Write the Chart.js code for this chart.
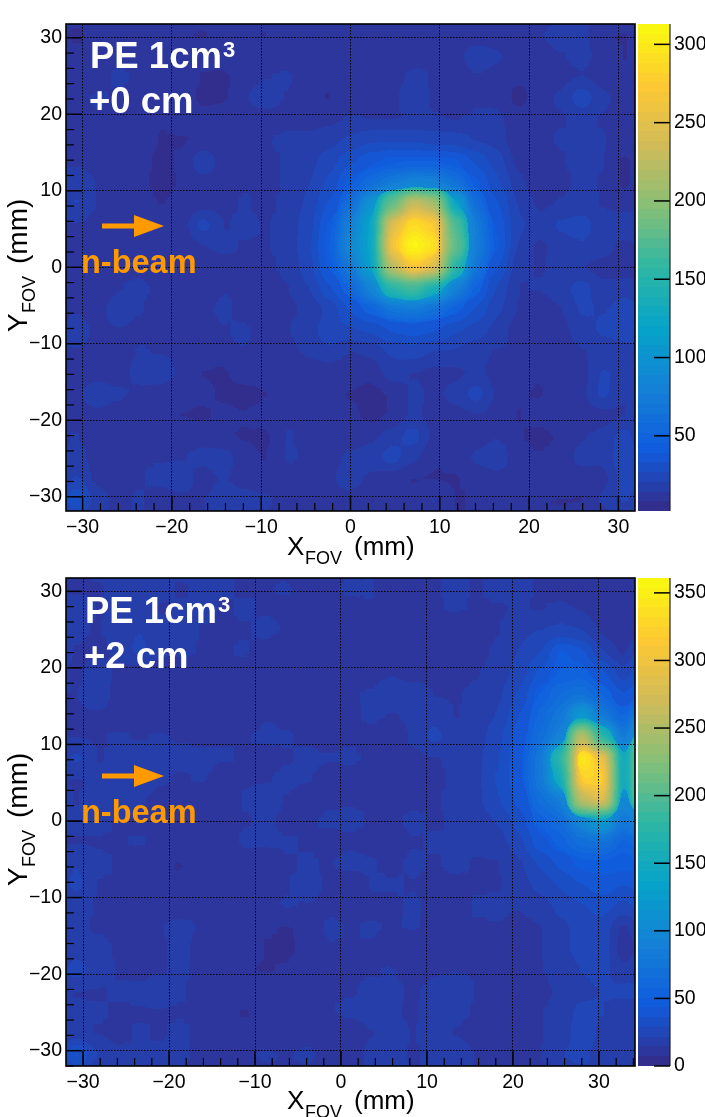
<!DOCTYPE html>
<html><head><meta charset="utf-8">
<style>
html,body{margin:0;padding:0;background:#fff;width:705px;height:1117px;overflow:hidden}
canvas{position:absolute;display:block}
</style>
<script src="https://cdn.jsdelivr.net/npm/chart.js@4"></script>
</head><body>
<canvas id="m1" style="left:0;top:0" width="640" height="570"></canvas>
<canvas id="c1" style="left:637px;top:0" width="68" height="570"></canvas>
<canvas id="m2" style="left:0;top:554px" width="640" height="563"></canvas>
<canvas id="c2" style="left:637px;top:554px" width="68" height="563"></canvas>
<script>
// ---- data -------------------------------------------------------------
const xTitle = ['X', 'FOV', '(mm)'];
const yTitle = ['Y', 'FOV', '(mm)'];
const sampleLabel = ['PE 1cm', '3'];
const shiftLabel1 = '+0 cm';
const shiftLabel2 = '+2 cm';
const beamLabel = 'n-beam';

const xRange1 = [-31.86, 31.86];
const yRange1 = [-31.86, 31.8];
const xRange2 = [-31.98, 34.19];
const yRange2 = [-32.0, 31.74];
const zRange1 = [2, 313];
const zRange2 = [0, 361];

// counts per bin, rows from the top of the picture, columns from the left
const counts1 = [
[ 6,11,13,12,10, 9, 8, 9, 8, 8,12,12,11,12,10, 9,12,13,10, 8, 8,12,14,18,17, 9, 8],
[10,12,14,12,11,11,10,12,14,12,10,10,11,13,14,13,12,14,12,20,16, 9,12,14,16,13, 8],
[11,13,15,14,12,12, 8, 7,12,14,16,11,10,12,13,12,16,14,10,14,12,10,12,13,14,12, 9],
[13,15,14,13,11,12, 7, 7,14,18,14, 9, 8,12,13,12,20,13,10,13,14, 5,13,15,26,16,12],
[13,14,12, 9, 9,10,10,13,12,12,12,12,13,15,14,14,15,15,14,16,15,13,13,14,16,14,10],
[14,12,13,12, 8, 8, 9,10,14,14,16,16,18,22,26,26,26,24,24,20,18, 9,13,15,15,15,10],
[13,12,11,10, 7, 9,20,12,13,13,15,18,24,32,38,42,44,44,40,32,24,12,10,14,17,15, 7],
[20,14,12,10, 6, 9,12,12,14,13,15,20,28,42,58,72,84,80,62,40,28,17, 8,13,16,14, 7],
[22,14,12,12, 8,10,12,13,15,13,16,22,34,60,100,180,235,215,120,58,34,20,13,15,17,14,10],
[14,13,12,14,13,11,24,14,16,14,17,24,40,80,120,250,290,275,170,72,38,22,18,22,24,17,22],
[12,12,13,14,11,10,14,16,14,14,17,25,44,88,120,270,330,295,180,76,40,20,13,18,20,18,12],
[12,13,14,13,12,11,12,12,14,13,16,24,40,72,115,225,275,250,150,66,34,16,14,16,14,12,10],
[14,10,14,16,13,11,10,14,14,12,14,20,32,52,85,150,165,135,80,48,26,14,15,18,24,16,18],
[14,12,18,15,12, 8,13,16,12,12,13,16,22,34,48,66,72,62,46,32,22,14,10,14,22,20,24],
[18,13,14,13,12,14,11,14,16,10,14,18,24,26,28,34,36,34,28,24,18,11, 9,12,18,22,24],
[14,13,12,15,14,13,13,13,14,12,12,16,20,14,16,22,24,20,20,16,14,14,11,10,14,16,18],
[13,12,11,17,19,13, 8, 7,13,12,10, 8,10,11,10,18,14,13,13,16,12,10, 9,10,12,22,18],
[13,18,16,13,11,12,10, 7, 5, 8,12,12,10, 8, 6, 9,16,13,17,24,13, 9, 8,11,13,23,14],
[13,13,11,10,12, 8, 7,10, 9,11,14,12,12,10, 6, 9,16,12,12,14,13, 8,11,14,12,12,14],
[15,11,10,12,12,13,13, 9, 8, 7,15,13,11,11,13,18,24,13,10,11,14, 9, 6, 9,14,16,24],
[17,12,14,14,14,14,16,18,10, 8,15,14,12,16,18,24,16, 9,10,16,20,10, 9,11,17,16,26],
[22,13,13,14,16,18,12,15,12,10,13,12,13,18,13,10, 8, 8, 8,10,12, 9,10,14,10,12,24],
[36,17,13,15,12,13,14,18,17,16,12,14,13,12, 8, 9,10,16, 8, 9, 9, 9, 9, 8, 8,16,22]
];
const counts2 = [
[12,14,16,18,16,14,16,15,14,14,15,13,14,16,15,10,10,14,16,14,16,16,14,12, 8,10,12],
[22,14,16,18,14,15,16,14,15,14,13,10,10,12,14,12,12,14,15,14,14,15,14,16,14,10, 8],
[16,14,18,22,17,18,14,13,14,16,14,14,12, 9,12,14,14,12, 9,10,14,20,22,24,22,13, 8],
[14,12,16,24,16,16,14,14,15,12,10,10,11,10,10,10,13,13,10,12,16,22,28,44,38,22,12],
[12,20,13,10,10,10,12,14,12,10,10, 9,14,12,12,14,10,12,12,14,18,24,38,52,54,38,24],
[14,22,11, 9, 9,10, 9,10,13,12,14,13,13,14,15,20,22,14,14,16,20,30,50,66,72,56,36],
[13,13,12,13,11,10,13, 9,11,14,13,12,10,13,16,14,16,20,14,18,22,36,60,78,125,80,54],
[14,14,15,14,15,14,13,14,14,16,15,13,12,14,12,10,16,24,18,18,26,40,66,92,265,170,76],
[24,14,16,18,16,16,16,15,14,12,14,16,15,15,14,13,13,14,16,20,28,42,78,175,350,300,130],
[14,16,18,18,15,14,15,12,14,14,16,15,12,13,12,12,14,13,16,20,30,42,78,150,325,325,130],
[14,18,22,15,13,12,10,10,15,18,14,11,14,14,14,14,13,14,16,20,28,38,68,85,260,290,98],
[16,16,14,13,12,12,12,12,14,16,13,14,15,16,14,13,16,14,15,18,22,32,54,64,100,125,76],
[14,14,14,15,14,13,12,10,16,16,15,14,13,13,13,12,14,15,15,16,18,26,40,54,68,72,54],
[22,16,14,10, 8, 7,14,14, 9, 8,14,15,14,17,15,13,16,14,16,14,14,20,30,38,46,48,46],
[24,14,14,12,11, 9,12,14,12,11,14,18,13, 9,15,15,14,12,13,14,14,18,24,30,36,40,36],
[18,14,14,14,13, 9,14, 8,10,13,15,14,13,13,13,13,16,12,12,15,16,15,18,24,28,32,26],
[16,14,13,13,14,18,13,12,10, 8, 7, 9,16,14,15,14,15,13,14,14,14,12,14,20,24,26,12],
[18,16,14,12,13,18,10,12,13, 7, 6,10,14,14,14,10, 8,14,14,14,13,11,14,20,24,26,10],
[26,18,14,13,14,16,12,10, 8, 7, 8,12,14,13,14,15,12,14,14,14,12,10,14,18,22,24,16],
[14,14,15,16,18,15,12, 9,10,13,13,13,14,14,16,15,14,16,20,14,12,12,12,16,20,22,24],
[16,15,14,14,14,14,13,10, 7,10,12,13,14,16,18,16,13,20,16,14,13,11,14,18,24,22,16],
[18,14,13,15,14,16,12,11, 9, 9,12,12, 8,10,14,18,14,18,14,12,12,13,14,18,26,20,18],
[40,22,16,15,16,18,10,13,14,16,14,16,12, 8,18,16,14,16,20,14,14,14,14,22,24,18,14]
];

// palette (ROOT "bird") and colour-bar contour count
const palStops = [0, .125, .25, .375, .5, .625, .75, .875, 1];
const palR = [.2082,.0592,.0780,.0232,.1802,.5301,.8186,.9956,.9764];
const palG = [.1664,.3599,.5041,.6419,.7178,.7492,.7328,.7862,.9832];
const palB = [.5293,.8684,.8385,.7914,.6425,.4662,.3499,.1968,.0539];
const contourCount = 50;

// ---- helpers ----------------------------------------------------------
const FONT = '"Liberation Sans", Arial, Helvetica, sans-serif';
const ORANGE = '#ff9900';

function birdRGB(t){
  t = Math.min(1, Math.max(0, t));
  let i = 0;
  while (i < palStops.length - 2 && t > palStops[i+1]) i++;
  const f = (t - palStops[i]) / (palStops[i+1] - palStops[i]);
  const c = a => Math.round(255 * (a[i] + (a[i+1] - a[i]) * f));
  return [c(palR), c(palG), c(palB)];
}
const birdColor = t => 'rgb(' + birdRGB(t).join(',') + ')';
const levelRGB = [];
for (let i = 0; i < contourCount; i++) levelRGB.push(birdRGB((i + .5) / contourCount));

function cellPoints(counts, xr, yr){
  const ny = counts.length, nx = counts[0].length, pts = [];
  counts.forEach((row, j) => row.forEach((v, i) => pts.push({
    x: xr[0] + (xr[1] - xr[0]) * (i + .5) / nx,
    y: yr[1] - (yr[1] - yr[0]) * (j + .5) / ny,
    v
  })));
  return pts;
}
const minusLabel = v => String(v).replace('-', '\u2212');

function frameScale(extra){
  return Object.assign({
    type: 'linear',
    border: {display: false, dash: [1.5, 1.5]},
    grid: {z: 1, color: '#000', lineWidth: 1, drawTicks: false},
  }, extra);
}
function noPad(s){ s.paddingLeft = s.paddingRight = s.paddingTop = s.paddingBottom = 0; }

// turn the drawn cells into filled contours of the 50 colour levels
function contourFill(chart){
  const a = chart.chartArea, ctx = chart.ctx, m = 30;
  const x0 = Math.round(a.left), y0 = Math.round(a.top);
  const w = Math.round(a.right - a.left), h = Math.round(a.bottom - a.top);
  const src = document.createElement('canvas'); src.width = w; src.height = h;
  src.getContext('2d').drawImage(ctx.canvas, x0, y0, w, h, 0, 0, w, h);
  const big = document.createElement('canvas'); big.width = w + 2*m; big.height = h + 2*m;
  const b = big.getContext('2d');
  b.drawImage(src, 0, 0, w, h, 0, 0, w + 2*m, h + 2*m);
  b.drawImage(src, m, m);
  const out = document.createElement('canvas'); out.width = w; out.height = h;
  const o = out.getContext('2d');
  o.filter = 'blur(6.5px)';
  o.drawImage(big, -m, -m);
  o.filter = 'none';
  const img = o.getImageData(0, 0, w, h), d = img.data, memo = new Map();
  for (let i = 0; i < d.length; i += 4){
    const key = (d[i] << 16) | (d[i+1] << 8) | d[i+2];
    let best = memo.get(key);
    if (best === undefined){
      let bd = 1e9;
      levelRGB.forEach((c, k) => {
        const q = (c[0]-d[i])**2 + (c[1]-d[i+1])**2 + (c[2]-d[i+2])**2;
        if (q < bd){ bd = q; best = k; }
      });
      memo.set(key, best);
    }
    const c = levelRGB[best];
    d[i] = c[0]; d[i+1] = c[1]; d[i+2] = c[2];
  }
  o.putImageData(img, 0, 0);
  ctx.save();
  ctx.beginPath(); ctx.rect(x0, y0, w, h); ctx.clip();
  ctx.filter = 'blur(0.7px)';
  ctx.drawImage(out, x0, y0);
  ctx.filter = 'none';
  ctx.restore();
}

// inward ROOT-style ticks, frame, axis titles and the text on the picture
function panelPlugin(shiftLabel, o){
  return {
    id: 'panelDeco',
    afterDatasetsDraw: contourFill,
    afterDraw(chart){
      const a = chart.chartArea, ctx = chart.ctx, sx = chart.scales.x, sy = chart.scales.y;
      ctx.save();
      ctx.strokeStyle = '#000'; ctx.lineCap = 'butt';
      for (let v = -32; v <= 34; v += 2){
        const major = v % 10 === 0;
        ctx.lineWidth = major ? 1.5 : 1.2;
        if (v >= sx.min && v <= sx.max){
          const p = sx.getPixelForValue(v);
          ctx.beginPath(); ctx.moveTo(p, a.bottom); ctx.lineTo(p, a.bottom - (major ? 15 : 8)); ctx.stroke();
        }
        if (v >= sy.min && v <= sy.max){
          const p = sy.getPixelForValue(v);
          ctx.beginPath(); ctx.moveTo(a.left, p); ctx.lineTo(a.left + (major ? 16 : 8), p); ctx.stroke();
        }
      }
      ctx.lineWidth = 1.6;
      ctx.strokeRect(a.left, a.top, a.right - a.left, a.bottom - a.top);

      ctx.fillStyle = '#000'; ctx.textBaseline = 'alphabetic'; ctx.textAlign = 'left';
      // x title
      ctx.font = '26px ' + FONT; ctx.fillText(xTitle[0], 287, 555); ctx.fillText(xTitle[2], 354, 555);
      ctx.font = '18px ' + FONT; ctx.fillText(xTitle[1], 305, 564);
      // y title
      ctx.save(); ctx.translate(27, 332); ctx.rotate(-Math.PI / 2);
      ctx.font = '28px ' + FONT; ctx.fillText(yTitle[0], 0, 0); ctx.fillText(yTitle[2], 68, 0);
      ctx.font = '18px ' + FONT; ctx.fillText(yTitle[1], 19, 8);
      ctx.restore();
      // labels
      ctx.fillStyle = '#fff';
      ctx.font = 'bold 36.5px ' + FONT;
      ctx.fillText(sampleLabel[0], o.labelX, o.labelY);
      ctx.fillText(shiftLabel, o.labelX - 1, o.labelY + 45);
      ctx.font = 'bold 22px ' + FONT;
      ctx.fillText(sampleLabel[1], o.labelX + 133, o.labelY - 11);
      ctx.fillStyle = ORANGE;
      ctx.font = 'bold 32.5px ' + FONT;
      ctx.fillText(beamLabel, 81, o.beamY);
      // arrow
      ctx.fillRect(102, o.arrowY - 2.5, 33, 5);
      ctx.beginPath(); ctx.moveTo(134, o.arrowY - 11); ctx.lineTo(164, o.arrowY); ctx.lineTo(134, o.arrowY + 11); ctx.closePath(); ctx.fill();
      ctx.restore();
    }
  };
}

function mapChart(id, counts, xr, yr, zr, xH, shiftLabel, o){
  const pts = cellPoints(counts, xr, yr);
  return new Chart(document.getElementById(id), {
    type: 'scatter',
    data: {datasets: [{
      data: pts,
      pointStyle: 'rect',
      pointBorderWidth: 0,
      borderWidth: 0,
      pointRadius: c => {
        const s = c.chart.scales.x;
        return (s.width / counts[0].length) / 2 * Math.SQRT2 + 0.8;
      },
      backgroundColor: c => birdColor(((c.raw ? c.raw.v : 0) - zr[0]) / (zr[1] - zr[0]))
    }]},
    options: {
      responsive: false, animation: false, events: [],
      layout: {padding: {top: 24, right: 5, left: 0, bottom: 0}},
      plugins: {legend: {display: false}, tooltip: {enabled: false}, title: {display: false}},
      scales: {
        x: frameScale({min: xr[0], max: xr[1],
          afterFit(s){ s.height = xH; noPad(s); },
          ticks: {stepSize: 10, includeBounds: false, autoSkip: false, maxRotation: 0, padding: 5,
                  color: '#000', font: {family: FONT, size: 19.5}, callback: minusLabel}}),
        y: frameScale({min: yr[0], max: yr[1],
          afterFit(s){ s.width = 66; noPad(s); },
          ticks: {stepSize: 10, includeBounds: false, autoSkip: false, padding: 4,
                  color: '#000', font: {family: FONT, size: 19.5}, callback: minusLabel}})
      }
    },
    plugins: [panelPlugin(shiftLabel, o)]
  });
}

function colorBar(id, zr, bottom){
  return new Chart(document.getElementById(id), {
    type: 'bar',
    data: {labels: [''], datasets: [{
      data: [zr],
      barPercentage: 1, categoryPercentage: 1, borderWidth: 0,
      backgroundColor: c => {
        const a = c.chart.chartArea;
        if (!a) return '#888';
        const g = c.chart.ctx.createLinearGradient(0, a.bottom, 0, a.top);
        for (let i = 0; i < contourCount; i++){
          const col = 'rgb(' + levelRGB[i].join(',') + ')';
          g.addColorStop(i / contourCount, col);
          g.addColorStop((i + 1) / contourCount, col);
        }
        return g;
      }
    }]},
    options: {
      responsive: false, animation: false, events: [],
      layout: {padding: {top: 24, left: 1, right: 0, bottom: 0}},
      plugins: {legend: {display: false}, tooltip: {enabled: false}},
      scales: {
        x: {type: 'category', display: true, border: {display: false}, grid: {display: false},
            ticks: {display: false}, afterFit(s){ s.height = s.chart.height - bottom; noPad(s); }},
        y: {type: 'linear', position: 'right', min: zr[0], max: zr[1],
            border: {display: false}, grid: {display: false, drawTicks: false},
            afterFit(s){ s.width = 35; noPad(s); },
            ticks: {stepSize: 50, includeBounds: false, padding: 4, autoSkip: false,
                    color: '#000', font: {family: FONT, size: 19.5}}}
      }
    },
    plugins: [{
      id: 'barTicks',
      afterDraw(chart){
        const a = chart.chartArea, ctx = chart.ctx, sy = chart.scales.y;
        ctx.save(); ctx.strokeStyle = '#000'; ctx.lineWidth = 1.5;
        sy.ticks.forEach(t => {
          const p = sy.getPixelForValue(t.value);
          ctx.beginPath(); ctx.moveTo(a.right, p); ctx.lineTo(a.right - 16, p); ctx.stroke();
        });
        ctx.lineWidth = 1.2; ctx.strokeStyle = '#222';
        ctx.beginPath(); ctx.moveTo(a.right, a.top); ctx.lineTo(a.right, a.bottom); ctx.stroke();
        ctx.restore();
      }
    }]
  });
}

mapChart('m1', counts1, xRange1, yRange1, zRange1, 59, shiftLabel1, {labelX: 90, labelY: 68, beamY: 273, arrowY: 226});
colorBar('c1', zRange1, 511);
mapChart('m2', counts2, xRange2, yRange2, zRange2, 51, shiftLabel2, {labelX: 85, labelY: 69, beamY: 269, arrowY: 222});
colorBar('c2', zRange2, 512);
</script>
</body></html>
